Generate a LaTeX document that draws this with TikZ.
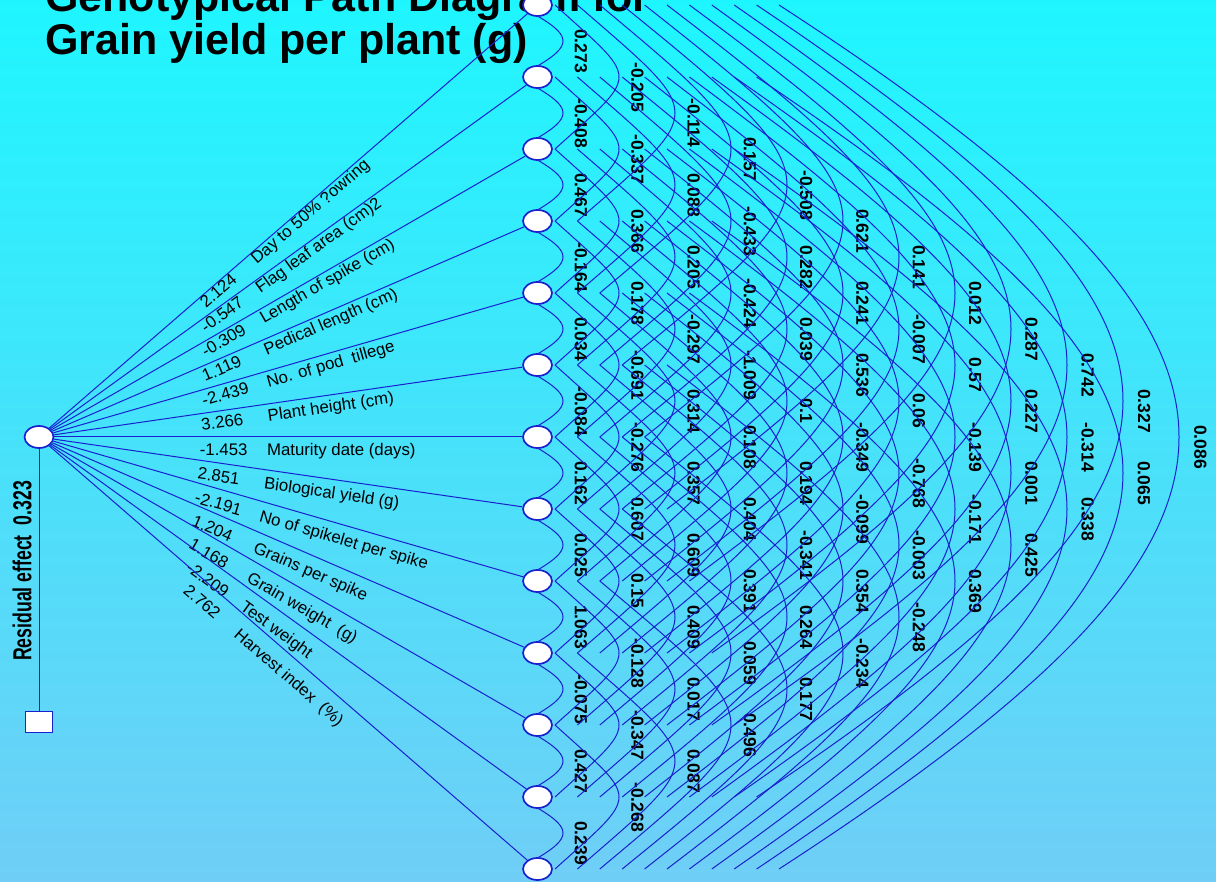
\documentclass[tikz,border=0pt]{standalone}
\usepackage{fontspec}
\setmainfont{Liberation Sans}
\usepackage{graphicx}
\usetikzlibrary{calc,shapes.geometric}
\definecolor{linkblue}{RGB}{24,32,208}
\definecolor{bgtop}{RGB}{30,246,255}
\definecolor{bgmid}{RGB}{66,214,250}
\definecolor{bgbot}{RGB}{112,206,246}
\tikzset{
  varnode/.style={ellipse, draw=linkblue, fill=white, line width=1.7pt, minimum width=29pt, minimum height=22pt, inner sep=0pt},
  resbox/.style={rectangle, draw=linkblue, fill=white, line width=1.6pt, minimum width=27pt, minimum height=21pt, inner sep=0pt},
  link/.style={draw=linkblue, line width=1pt},
  corr/.style={font=\bfseries\fontsize{17.5}{17.5}\selectfont, rotate=-90, inner sep=0pt},
  pathlbl/.style={font=\fontsize{16.8}{16.8}\selectfont, sloped, anchor=north west, inner xsep=0pt},
  title/.style={font=\bfseries\fontsize{43}{43}\selectfont, anchor=base west, inner sep=0pt},
  resfont/.style={font=\bfseries\fontsize{26}{26}\selectfont, inner sep=0pt}
}

\begin{document}
\begin{tikzpicture}[x=1pt, y=-1pt]
  % background
  \shade[top color=bgtop, middle color=bgmid, bottom color=bgbot] (0,0) rectangle (1216,882);
  \useasboundingbox (0,0) rectangle (1216,882);

  % title
  \node[title] (t1) at (45,12) {Genotypical Path Diagram for};
  \node[title] (t2) at (45,55) {Grain yield per plant (g)};

  % variables
  \node[varnode] (L) at (39,437) {};
  \foreach \m in {1,...,13}
    \node[varnode] (V\m) at (537.5,{5+72*(\m-1)}) {};

  % direct effects
  \foreach \m/\val/\name in {
      1/2.124/Day to 50\% ?owring,
      2/-0.547/Flag leaf area (cm)2,
      3/-0.309/Length of spike (cm),
      4/1.119/Pedical length (cm),
      5/-2.439/No. of pod\ \ tillege,
      6/3.266/Plant height (cm),
      7/-1.453/Maturity date (days),
      8/2.851/Biological yield (g),
      9/-2.191/No of spikelet per spike,
      10/1.204/Grains per spike,
      11/1.168/Grain weight\ \ (g),
      12/-2.209/Test weight,
      13/2.762/Harvest index\ \ (\%)} {
    \pgfmathsetmacro\gap{0.9*(\m-1)}
    \draw[link] (L) -- node[pathlbl, pos=0.31, inner ysep=\gap pt] {\makebox[4em][l]{\val}\name} (V\m);
  }

  % residual
  \node[resbox] (R) at (39,722) {};
  \draw[link] (L) -- (R);
  \node[resfont, rotate=90] (rlbl) at (22,571) {\scalebox{0.68}[1]{Residual effect\ \ 0.323}};

  % correlations
  \foreach \k/\vals in {
      1/{0.273,-0.408,0.467,-0.164,0.034,-0.084,0.162,0.025,1.063,-0.075,0.427,0.239},
      2/{-0.205,-0.337,0.366,0.178,-0.691,-0.276,0.607,0.15,-0.128,-0.347,-0.268},
      3/{-0.114,0.088,0.205,-0.297,0.314,0.357,0.609,0.409,0.017,0.087},
      4/{0.157,-0.433,-0.424,-1.009,0.108,0.404,0.391,0.059,0.496},
      5/{-0.508,0.282,0.039,0.1,0.194,-0.341,0.264,0.177},
      6/{0.621,0.241,0.536,-0.349,-0.099,0.354,-0.234},
      7/{0.141,-0.007,0.06,-0.768,-0.003,-0.248},
      8/{0.012,0.57,-0.139,-0.171,0.369},
      9/{0.287,0.227,0.001,0.425},
      10/{0.742,-0.314,0.338},
      11/{0.327,0.065},
      12/{0.086}}
    \foreach \v [count=\i] in \vals {
      \pgfmathtruncatemacro\j{\i+\k}
      \pgfmathsetmacro\dy{\k==1 ? 11 : 0}
      \pgfmathsetmacro\bend{\k==1 ? 0.4 : 0.55-0.0136*(\k-1)}
      \pgfmathsetmacro\ya{5+72*(\i-1)+\dy}
      \pgfmathsetmacro\yb{5+72*(\j-1)-\dy}
      \pgfmathsetmacro\xa{563+56*(\k-1)}
      \pgfmathsetmacro\xs{\k==1 ? 537.5 : 555+22.4*(\k-2)}
      \pgfmathsetmacro\xc{\xs+4/3*(\xa-\xs)}
      \pgfmathsetmacro\ca{\ya+\bend*(\yb-\ya)}
      \pgfmathsetmacro\cb{\yb-\bend*(\yb-\ya)}
      \coordinate (s\i-\j) at (\xs,\ya);
      \coordinate (e\i-\j) at (\xs,\yb);
      \draw[link] (s\i-\j) .. controls (\xc,\ca) and (\xc,\cb) .. (e\i-\j);
      \node[corr] (c\i-\j) at ({581+56.3*(\k-1)},{5+36*(\i+\j-2)+10}) {\v};
    }
\end{tikzpicture}
\end{document}
